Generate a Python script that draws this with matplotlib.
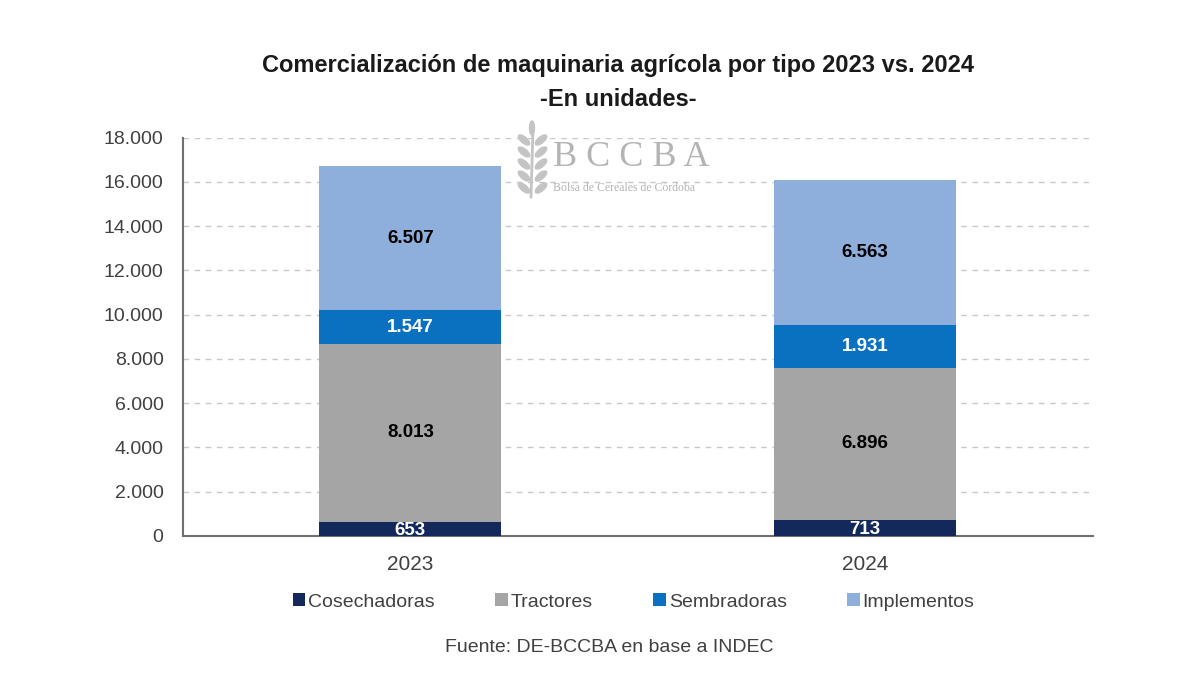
import matplotlib.pyplot as plt
from matplotlib.patches import Patch, Ellipse
from matplotlib.ticker import FuncFormatter, MultipleLocator
import numpy as np

plt.rcParams['font.family'] = ['Liberation Sans', 'DejaVu Sans']

# datos
years = ['2023', '2024']
categories = ['Cosechadoras', 'Tractores', 'Sembradoras', 'Implementos']
cosechadoras = [653, 713]
tractores = [8013, 6896]
sembradoras = [1547, 1931]
implementos = [6507, 6563]

colors = ['#13295b', '#a5a5a5', '#0a70c0', '#8eaedb']
label_colors = ['white', 'black', 'white', 'black']

fig = plt.figure(figsize=(12, 6.75), dpi=100)
fig.set_facecolor('white')
ax = fig.add_axes([0.1525, 0.206, 0.758, 0.59])

def fmt(v):
    return f'{int(v):,}'.replace(',', '.')

x = np.arange(len(years))
bottom = np.zeros(len(years))
series = [cosechadoras, tractores, sembradoras, implementos]
for vals, col, lc in zip(series, colors, label_colors):
    vals = np.array(vals, dtype=float)
    ax.bar(x, vals, 0.4, bottom=bottom, color=col, zorder=3)
    for xi, b, v in zip(x, bottom, vals):
        ax.text(xi, b + v / 2 - (80 if v < 1000 else 0), fmt(v), ha='center', va='center',
                fontsize=13.5, fontweight='bold', color=lc, zorder=4)
    bottom += vals

ax.set_xlim(-0.5, 1.5)
ax.set_ylim(0, 18000)
ax.yaxis.set_major_locator(MultipleLocator(2000))
ax.yaxis.set_major_formatter(FuncFormatter(lambda v, p: fmt(v)))
ax.set_xticks(x)
ax.set_xticklabels(years)
ax.tick_params(axis='y', length=0, labelsize=14, colors='#404040', pad=14)
ax.tick_params(axis='x', length=0, labelsize=15, colors='#404040', pad=14)
ax.grid(axis='y', linestyle=(0, (4, 4)), color='#c8c8c8', linewidth=1, zorder=0)
for s in ['top', 'right']:
    ax.spines[s].set_visible(False)
for s in ['left', 'bottom']:
    ax.spines[s].set_color('#707070')
    ax.spines[s].set_linewidth(1.5)

# titulo
fig.text(0.515, 0.903, 'Comercialización de maquinaria agrícola por tipo 2023 vs. 2024',
         ha='center', va='center', fontsize=17, fontweight='bold', color='#1a1a1a')
fig.text(0.515, 0.853, '-En unidades-', ha='center', va='center',
         fontsize=17, fontweight='bold', color='#1a1a1a')

# marca de agua (espiga + texto)
px = fig.dpi_scale_trans
def pt(xp, yp):
    return (xp / 100, (675 - yp) / 100)
(x0, y0), (x1, y1) = pt(531, 197), pt(533, 128)
fig.add_artist(plt.Line2D([x0, x1], [y0, y1], transform=px, color='#c4c4c4', lw=2, zorder=5))
for yp in [140, 152, 164, 176, 188]:
    fig.add_artist(Ellipse(pt(524, yp), 0.14, 0.06, angle=-40, transform=px,
                           color='#c4c4c4', zorder=5))
    fig.add_artist(Ellipse(pt(541, yp), 0.14, 0.06, angle=40, transform=px,
                           color='#c4c4c4', zorder=5))
fig.add_artist(Ellipse(pt(532, 128), 0.05, 0.14, transform=px, color='#c4c4c4', zorder=5))
fig.text(0.461, 0.766, 'B C C B A', ha='left', va='center', fontsize=26,
         family='Liberation Serif', color='#b4b4b4', zorder=5)
fig.text(0.461, 0.721, 'Bolsa de Cereales de Córdoba', ha='left', va='center', fontsize=8.5,
         family='Liberation Serif', color='#b4b4b4', zorder=5)

# leyenda
handles = [Patch(facecolor=c) for c in colors]
fig.legend(handles, categories, loc='center', bbox_to_anchor=(0.528, 0.108), ncol=4,
           frameon=False, fontsize=14, handlelength=0.65, handleheight=0.65,
           handletextpad=0.15, columnspacing=3.1, labelcolor='#404040')

fig.text(0.508, 0.041, 'Fuente: DE-BCCBA en base a INDEC', ha='center', va='center',
         fontsize=14, color='#404040')

plt.savefig('out.png', dpi=100)
